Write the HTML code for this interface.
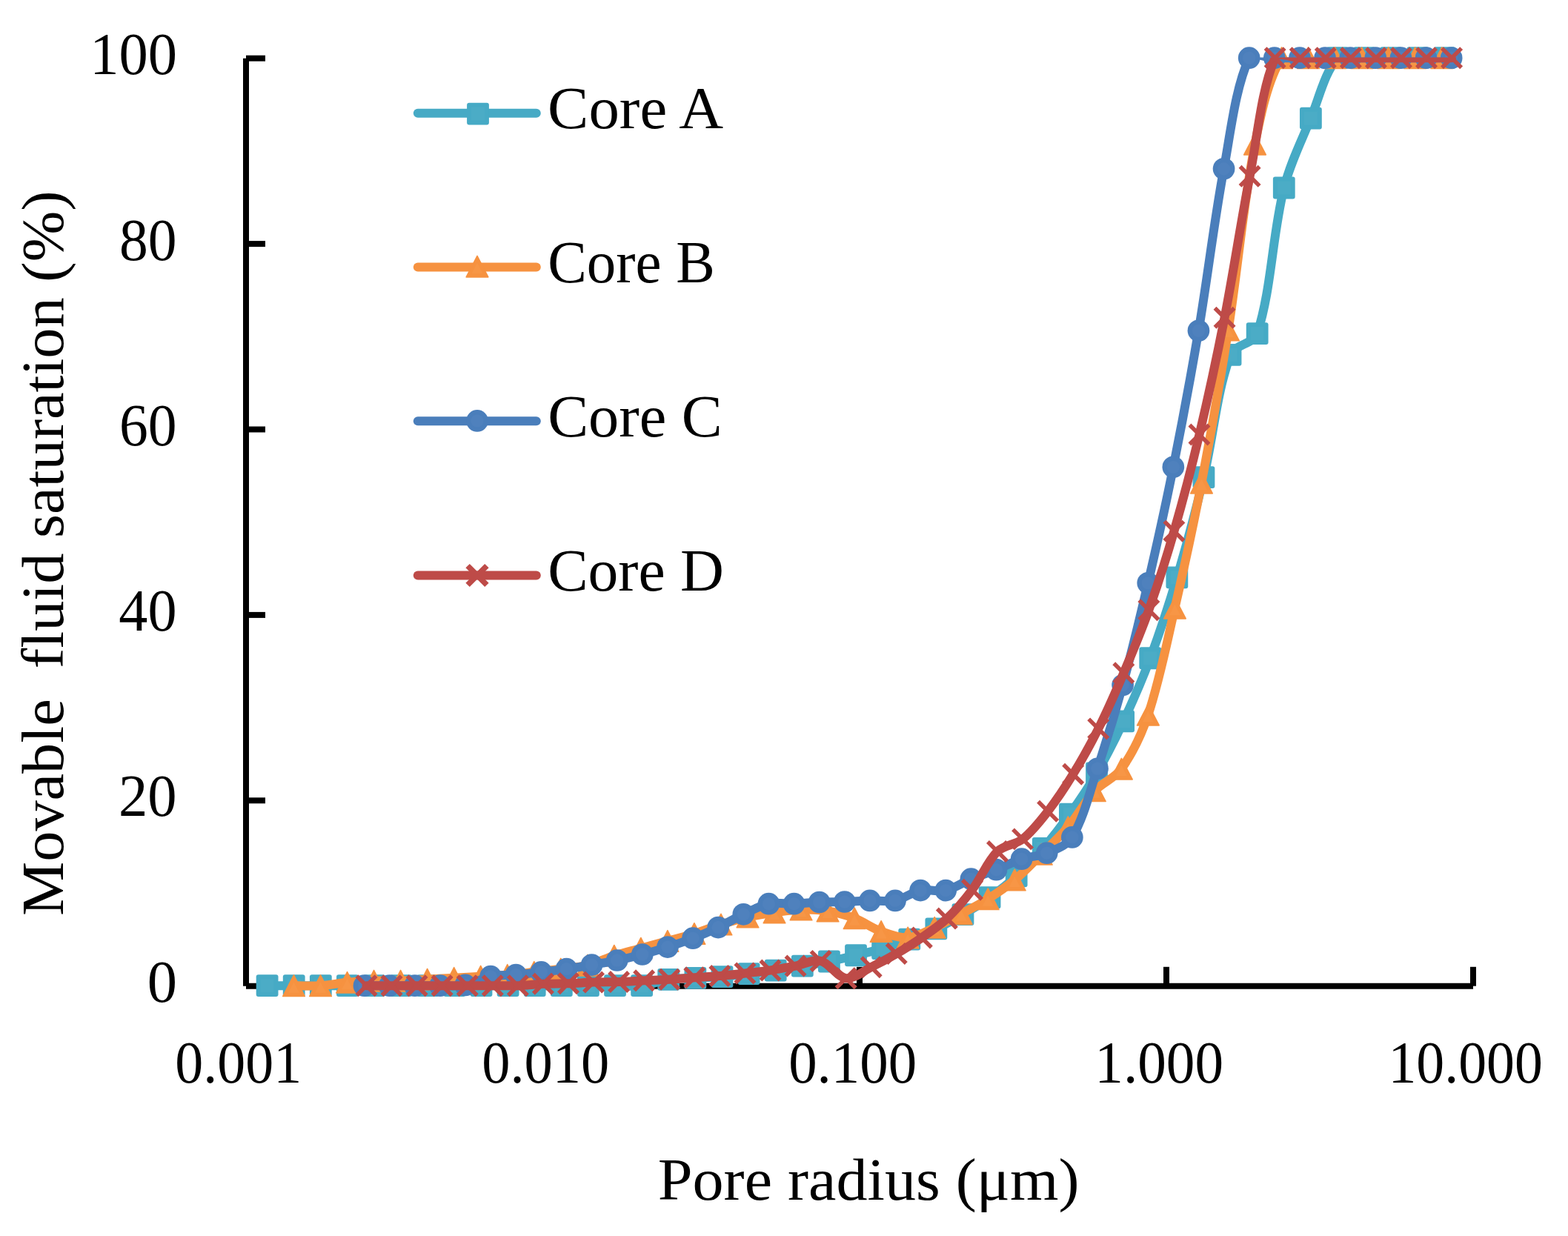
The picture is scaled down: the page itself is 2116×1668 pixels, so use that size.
<!DOCTYPE html>
<html><head><meta charset="utf-8"><title>Movable fluid saturation vs pore radius</title>
<style>html,body{margin:0;padding:0;background:#fff;}svg{display:block;}</style></head>
<body>
<svg width="2116" height="1668" viewBox="0 0 2116 1668">
<rect width="2116" height="1668" fill="#fff"/>
<g font-family="&quot;Liberation Serif&quot;, serif" font-size="80.0" fill="#000">
<text x="121.21" y="99.70" textLength="117.78" lengthAdjust="spacingAndGlyphs">100</text>
<text x="160.93" y="351.30" textLength="77.54" lengthAdjust="spacingAndGlyphs">80</text>
<text x="160.93" y="600.50" textLength="77.54" lengthAdjust="spacingAndGlyphs">60</text>
<text x="160.27" y="850.90" textLength="78.23" lengthAdjust="spacingAndGlyphs">40</text>
<text x="159.92" y="1101.30" textLength="78.59" lengthAdjust="spacingAndGlyphs">20</text>
<text x="198.82" y="1351.70" textLength="40.26" lengthAdjust="spacingAndGlyphs">0</text>
<text x="236.19" y="1461.20" textLength="170.94" lengthAdjust="spacingAndGlyphs">0.001</text>
<text x="650.17" y="1461.20" textLength="172.10" lengthAdjust="spacingAndGlyphs">0.010</text>
<text x="1064.15" y="1461.20" textLength="172.93" lengthAdjust="spacingAndGlyphs">0.100</text>
<text x="1477.33" y="1461.20" textLength="173.77" lengthAdjust="spacingAndGlyphs">1.000</text>
<text x="1873.45" y="1461.20" textLength="208.32" lengthAdjust="spacingAndGlyphs">10.000</text>
<text x="887.72" y="1619.00" textLength="568.72" lengthAdjust="spacingAndGlyphs">Pore radius (μm)</text>
<g transform="translate(84.5,1234) rotate(-90)"><text x="-2.03" y="0" textLength="978.75" lengthAdjust="spacingAndGlyphs" style="white-space:pre">Movable  fluid saturation (%)</text></g>
<text x="739.13" y="173.00" textLength="237.02" lengthAdjust="spacingAndGlyphs">Core A</text>
<text x="739.28" y="380.50" textLength="225.45" lengthAdjust="spacingAndGlyphs">Core B</text>
<text x="739.15" y="589.00" textLength="235.67" lengthAdjust="spacingAndGlyphs">Core C</text>
<text x="739.18" y="797.00" textLength="237.74" lengthAdjust="spacingAndGlyphs">Core D</text>
</g>
<g stroke="#000" stroke-width="8" stroke-linecap="butt" fill="none">
<path d="M332 78.7V1330.7"/>
<path d="M332 1330.7H1988"/>
<path d="M332 78.7H358"/>
<path d="M332 329.1H358"/>
<path d="M332 579.5H358"/>
<path d="M332 829.9H358"/>
<path d="M332 1080.3H358"/>
<path d="M746 1330.7V1304.8"/>
<path d="M1160 1330.7V1304.8"/>
<path d="M1574 1330.7V1304.8"/>
<path d="M1988 1330.7V1304.8"/>
</g>
<defs><clipPath id="pa"><rect x="0" y="77.4" width="2116" height="1600"/></clipPath></defs>
<path clip-path="url(#pa)" d="M360.60 1330.20 C366.62 1330.20 384.67 1330.20 396.71 1330.20 C408.75 1330.20 420.78 1330.20 432.82 1330.20 C444.86 1330.20 456.89 1330.20 468.93 1330.20 C480.97 1330.20 493.00 1330.20 505.04 1330.20 C517.08 1330.20 529.11 1330.20 541.15 1330.20 C553.19 1330.20 565.22 1330.20 577.26 1330.20 C589.30 1330.20 601.33 1330.20 613.37 1330.20 C625.41 1330.20 637.44 1330.20 649.48 1330.20 C661.52 1330.20 673.55 1330.20 685.59 1330.20 C697.63 1330.20 709.66 1330.20 721.70 1330.20 C733.74 1330.20 745.77 1330.20 757.81 1330.20 C769.85 1330.20 781.88 1330.20 793.92 1330.20 C805.96 1330.20 817.99 1330.20 830.03 1330.20 C842.07 1330.20 854.26 1331.56 866.14 1330.20 C878.33 1328.81 890.07 1323.67 902.25 1321.94 C914.14 1320.25 926.32 1320.58 938.36 1319.93 C950.40 1319.29 962.46 1319.03 974.47 1318.06 C986.54 1317.07 998.55 1315.47 1010.58 1314.05 C1022.63 1312.63 1034.69 1311.29 1046.69 1309.54 C1058.76 1307.78 1070.76 1305.54 1082.80 1303.53 C1094.84 1301.53 1106.94 1299.89 1118.91 1297.52 C1131.02 1295.13 1143.02 1292.15 1155.02 1289.26 C1167.09 1286.35 1179.25 1283.68 1191.13 1280.12 C1203.32 1276.46 1215.29 1272.01 1227.24 1267.60 C1239.36 1263.12 1251.65 1258.89 1263.35 1253.45 C1275.72 1247.71 1287.67 1240.94 1299.46 1234.05 C1311.74 1226.87 1324.01 1219.52 1335.57 1211.26 C1348.08 1202.33 1360.37 1192.86 1371.68 1182.46 C1384.44 1170.74 1396.47 1158.05 1407.79 1144.90 C1420.55 1130.09 1432.55 1114.51 1443.90 1098.58 C1456.63 1080.71 1469.05 1062.48 1480.01 1043.49 C1493.13 1020.75 1505.04 997.20 1516.12 973.38 C1529.11 945.45 1541.49 917.11 1552.23 888.24 C1565.56 852.42 1577.49 815.98 1588.34 779.32 C1601.57 734.60 1613.55 689.45 1624.45 644.10 C1637.62 589.29 1641.65 529.65 1660.56 478.84 C1665.72 464.97 1692.15 464.15 1696.67 450.04 C1716.22 389.03 1716.77 317.88 1732.78 253.48 C1740.84 221.06 1756.12 190.58 1768.89 159.58 C1780.19 132.15 1787.87 97.50 1805.00 78.20 C1811.95 70.37 1829.07 78.20 1841.11 78.20 C1853.15 78.20 1865.18 78.20 1877.22 78.20 C1889.26 78.20 1901.29 78.20 1913.33 78.20 C1925.37 78.20 1943.42 78.20 1949.44 78.20" fill="none" stroke="#46AAC5" stroke-width="12" stroke-linecap="round" stroke-linejoin="round"/>
<g><rect x="345.70" y="1315.30" width="29.8" height="29.8" rx="3" fill="#46AAC5"/><rect x="351.60" y="1321.20" width="18" height="18" fill="#4BACC6"/><rect x="381.81" y="1315.30" width="29.8" height="29.8" rx="3" fill="#46AAC5"/><rect x="387.71" y="1321.20" width="18" height="18" fill="#4BACC6"/><rect x="417.92" y="1315.30" width="29.8" height="29.8" rx="3" fill="#46AAC5"/><rect x="423.82" y="1321.20" width="18" height="18" fill="#4BACC6"/><rect x="454.03" y="1315.30" width="29.8" height="29.8" rx="3" fill="#46AAC5"/><rect x="459.93" y="1321.20" width="18" height="18" fill="#4BACC6"/><rect x="490.14" y="1315.30" width="29.8" height="29.8" rx="3" fill="#46AAC5"/><rect x="496.04" y="1321.20" width="18" height="18" fill="#4BACC6"/><rect x="526.25" y="1315.30" width="29.8" height="29.8" rx="3" fill="#46AAC5"/><rect x="532.15" y="1321.20" width="18" height="18" fill="#4BACC6"/><rect x="562.36" y="1315.30" width="29.8" height="29.8" rx="3" fill="#46AAC5"/><rect x="568.26" y="1321.20" width="18" height="18" fill="#4BACC6"/><rect x="598.47" y="1315.30" width="29.8" height="29.8" rx="3" fill="#46AAC5"/><rect x="604.37" y="1321.20" width="18" height="18" fill="#4BACC6"/><rect x="634.58" y="1315.30" width="29.8" height="29.8" rx="3" fill="#46AAC5"/><rect x="640.48" y="1321.20" width="18" height="18" fill="#4BACC6"/><rect x="670.69" y="1315.30" width="29.8" height="29.8" rx="3" fill="#46AAC5"/><rect x="676.59" y="1321.20" width="18" height="18" fill="#4BACC6"/><rect x="706.80" y="1315.30" width="29.8" height="29.8" rx="3" fill="#46AAC5"/><rect x="712.70" y="1321.20" width="18" height="18" fill="#4BACC6"/><rect x="742.91" y="1315.30" width="29.8" height="29.8" rx="3" fill="#46AAC5"/><rect x="748.81" y="1321.20" width="18" height="18" fill="#4BACC6"/><rect x="779.02" y="1315.30" width="29.8" height="29.8" rx="3" fill="#46AAC5"/><rect x="784.92" y="1321.20" width="18" height="18" fill="#4BACC6"/><rect x="815.13" y="1315.30" width="29.8" height="29.8" rx="3" fill="#46AAC5"/><rect x="821.03" y="1321.20" width="18" height="18" fill="#4BACC6"/><rect x="851.24" y="1315.30" width="29.8" height="29.8" rx="3" fill="#46AAC5"/><rect x="857.14" y="1321.20" width="18" height="18" fill="#4BACC6"/><rect x="887.35" y="1307.04" width="29.8" height="29.8" rx="3" fill="#46AAC5"/><rect x="893.25" y="1312.94" width="18" height="18" fill="#4BACC6"/><rect x="923.46" y="1305.03" width="29.8" height="29.8" rx="3" fill="#46AAC5"/><rect x="929.36" y="1310.93" width="18" height="18" fill="#4BACC6"/><rect x="959.57" y="1303.16" width="29.8" height="29.8" rx="3" fill="#46AAC5"/><rect x="965.47" y="1309.06" width="18" height="18" fill="#4BACC6"/><rect x="995.68" y="1299.15" width="29.8" height="29.8" rx="3" fill="#46AAC5"/><rect x="1001.58" y="1305.05" width="18" height="18" fill="#4BACC6"/><rect x="1031.79" y="1294.64" width="29.8" height="29.8" rx="3" fill="#46AAC5"/><rect x="1037.69" y="1300.54" width="18" height="18" fill="#4BACC6"/><rect x="1067.90" y="1288.63" width="29.8" height="29.8" rx="3" fill="#46AAC5"/><rect x="1073.80" y="1294.53" width="18" height="18" fill="#4BACC6"/><rect x="1104.01" y="1282.62" width="29.8" height="29.8" rx="3" fill="#46AAC5"/><rect x="1109.91" y="1288.52" width="18" height="18" fill="#4BACC6"/><rect x="1140.12" y="1274.36" width="29.8" height="29.8" rx="3" fill="#46AAC5"/><rect x="1146.02" y="1280.26" width="18" height="18" fill="#4BACC6"/><rect x="1176.23" y="1265.22" width="29.8" height="29.8" rx="3" fill="#46AAC5"/><rect x="1182.13" y="1271.12" width="18" height="18" fill="#4BACC6"/><rect x="1212.34" y="1252.70" width="29.8" height="29.8" rx="3" fill="#46AAC5"/><rect x="1218.24" y="1258.60" width="18" height="18" fill="#4BACC6"/><rect x="1248.45" y="1238.55" width="29.8" height="29.8" rx="3" fill="#46AAC5"/><rect x="1254.35" y="1244.45" width="18" height="18" fill="#4BACC6"/><rect x="1284.56" y="1219.15" width="29.8" height="29.8" rx="3" fill="#46AAC5"/><rect x="1290.46" y="1225.05" width="18" height="18" fill="#4BACC6"/><rect x="1320.67" y="1196.36" width="29.8" height="29.8" rx="3" fill="#46AAC5"/><rect x="1326.57" y="1202.26" width="18" height="18" fill="#4BACC6"/><rect x="1356.78" y="1167.56" width="29.8" height="29.8" rx="3" fill="#46AAC5"/><rect x="1362.68" y="1173.46" width="18" height="18" fill="#4BACC6"/><rect x="1392.89" y="1130.00" width="29.8" height="29.8" rx="3" fill="#46AAC5"/><rect x="1398.79" y="1135.90" width="18" height="18" fill="#4BACC6"/><rect x="1429.00" y="1083.68" width="29.8" height="29.8" rx="3" fill="#46AAC5"/><rect x="1434.90" y="1089.58" width="18" height="18" fill="#4BACC6"/><rect x="1465.11" y="1028.59" width="29.8" height="29.8" rx="3" fill="#46AAC5"/><rect x="1471.01" y="1034.49" width="18" height="18" fill="#4BACC6"/><rect x="1501.22" y="958.48" width="29.8" height="29.8" rx="3" fill="#46AAC5"/><rect x="1507.12" y="964.38" width="18" height="18" fill="#4BACC6"/><rect x="1537.33" y="873.34" width="29.8" height="29.8" rx="3" fill="#46AAC5"/><rect x="1543.23" y="879.24" width="18" height="18" fill="#4BACC6"/><rect x="1573.44" y="764.42" width="29.8" height="29.8" rx="3" fill="#46AAC5"/><rect x="1579.34" y="770.32" width="18" height="18" fill="#4BACC6"/><rect x="1609.55" y="629.20" width="29.8" height="29.8" rx="3" fill="#46AAC5"/><rect x="1615.45" y="635.10" width="18" height="18" fill="#4BACC6"/><rect x="1645.66" y="463.94" width="29.8" height="29.8" rx="3" fill="#46AAC5"/><rect x="1651.56" y="469.84" width="18" height="18" fill="#4BACC6"/><rect x="1681.77" y="435.14" width="29.8" height="29.8" rx="3" fill="#46AAC5"/><rect x="1687.67" y="441.04" width="18" height="18" fill="#4BACC6"/><rect x="1717.88" y="238.58" width="29.8" height="29.8" rx="3" fill="#46AAC5"/><rect x="1723.78" y="244.48" width="18" height="18" fill="#4BACC6"/><rect x="1753.99" y="144.68" width="29.8" height="29.8" rx="3" fill="#46AAC5"/><rect x="1759.89" y="150.58" width="18" height="18" fill="#4BACC6"/><rect x="1790.10" y="63.30" width="29.8" height="29.8" rx="3" fill="#46AAC5"/><rect x="1796.00" y="69.20" width="18" height="18" fill="#4BACC6"/><rect x="1826.21" y="63.30" width="29.8" height="29.8" rx="3" fill="#46AAC5"/><rect x="1832.11" y="69.20" width="18" height="18" fill="#4BACC6"/><rect x="1862.32" y="63.30" width="29.8" height="29.8" rx="3" fill="#46AAC5"/><rect x="1868.22" y="69.20" width="18" height="18" fill="#4BACC6"/><rect x="1898.43" y="63.30" width="29.8" height="29.8" rx="3" fill="#46AAC5"/><rect x="1904.33" y="69.20" width="18" height="18" fill="#4BACC6"/><rect x="1934.54" y="63.30" width="29.8" height="29.8" rx="3" fill="#46AAC5"/><rect x="1940.44" y="69.20" width="18" height="18" fill="#4BACC6"/></g>
<path clip-path="url(#pa)" d="M396.50 1330.20 C402.50 1330.20 420.56 1330.93 432.53 1330.20 C444.58 1329.47 456.51 1326.91 468.55 1325.82 C480.53 1324.74 492.56 1324.04 504.58 1323.69 C516.58 1323.34 528.61 1324.02 540.61 1323.69 C552.63 1323.36 564.63 1322.33 576.64 1321.69 C588.65 1321.04 600.66 1320.48 612.67 1319.81 C624.68 1319.14 636.68 1318.35 648.69 1317.68 C660.70 1317.01 672.74 1316.78 684.72 1315.80 C696.76 1314.82 708.74 1313.15 720.75 1311.80 C732.76 1310.44 744.79 1309.18 756.78 1307.66 C768.81 1306.14 781.10 1305.56 792.81 1302.66 C805.12 1299.60 816.69 1293.62 828.83 1289.76 C840.70 1285.99 852.85 1283.06 864.86 1279.74 C876.87 1276.43 888.88 1273.15 900.89 1269.85 C912.90 1266.56 925.03 1263.64 936.92 1259.96 C949.05 1256.21 960.82 1251.34 972.95 1247.57 C984.84 1243.87 996.82 1240.25 1008.97 1237.55 C1020.84 1234.91 1032.95 1233.22 1045.00 1231.54 C1056.97 1229.88 1068.99 1227.87 1081.03 1227.54 C1093.01 1227.20 1105.25 1227.63 1117.06 1229.54 C1129.27 1231.51 1141.52 1234.78 1153.09 1239.18 C1165.54 1243.92 1176.61 1252.40 1189.11 1256.96 C1200.63 1261.16 1213.37 1266.31 1225.14 1265.47 C1237.39 1264.60 1249.47 1257.07 1261.17 1251.82 C1273.49 1246.30 1285.28 1239.55 1297.20 1233.17 C1309.29 1226.70 1321.66 1220.60 1333.23 1213.26 C1345.68 1205.37 1357.97 1196.94 1369.25 1187.47 C1381.99 1176.78 1393.44 1164.52 1405.28 1152.79 C1417.46 1140.73 1430.29 1129.18 1441.31 1116.11 C1454.31 1100.68 1463.76 1082.07 1477.34 1067.28 C1487.78 1055.90 1504.61 1050.08 1513.37 1037.61 C1528.63 1015.86 1540.89 990.23 1549.39 964.62 C1564.91 917.91 1574.32 868.84 1585.42 820.64 C1598.34 764.51 1610.58 708.18 1621.45 651.62 C1634.60 583.14 1646.62 514.41 1657.48 445.54 C1670.64 362.09 1677.29 277.32 1693.51 194.64 C1701.31 154.88 1711.00 108.16 1729.53 78.20 C1735.01 69.34 1753.55 78.20 1765.56 78.20 C1777.57 78.20 1789.58 78.20 1801.59 78.20 C1813.60 78.20 1825.61 78.20 1837.62 78.20 C1849.63 78.20 1861.64 78.20 1873.65 78.20 C1885.66 78.20 1897.66 78.20 1909.67 78.20 C1921.68 78.20 1939.70 78.20 1945.70 78.20" fill="none" stroke="#F69240" stroke-width="12" stroke-linecap="round" stroke-linejoin="round"/>
<g><path d="M396.50 1315.90L411.35 1344.50H381.65Z" fill="#F69240" stroke="#F69240" stroke-width="1.5" stroke-linejoin="round"/><path d="M396.50 1325.43L403.92 1339.73H389.07Z" fill="#F79646"/><path d="M432.53 1315.90L447.38 1344.50H417.68Z" fill="#F69240" stroke="#F69240" stroke-width="1.5" stroke-linejoin="round"/><path d="M432.53 1325.43L439.95 1339.73H425.10Z" fill="#F79646"/><path d="M468.55 1311.52L483.40 1340.12H453.70Z" fill="#F69240" stroke="#F69240" stroke-width="1.5" stroke-linejoin="round"/><path d="M468.55 1321.05L475.98 1335.35H461.13Z" fill="#F79646"/><path d="M504.58 1309.39L519.43 1337.99H489.73Z" fill="#F69240" stroke="#F69240" stroke-width="1.5" stroke-linejoin="round"/><path d="M504.58 1318.92L512.01 1333.22H497.16Z" fill="#F79646"/><path d="M540.61 1309.39L555.46 1337.99H525.76Z" fill="#F69240" stroke="#F69240" stroke-width="1.5" stroke-linejoin="round"/><path d="M540.61 1318.92L548.03 1333.22H533.19Z" fill="#F79646"/><path d="M576.64 1307.39L591.49 1335.99H561.79Z" fill="#F69240" stroke="#F69240" stroke-width="1.5" stroke-linejoin="round"/><path d="M576.64 1316.92L584.06 1331.22H569.21Z" fill="#F79646"/><path d="M612.67 1305.51L627.52 1334.11H597.82Z" fill="#F69240" stroke="#F69240" stroke-width="1.5" stroke-linejoin="round"/><path d="M612.67 1315.04L620.09 1329.34H605.24Z" fill="#F79646"/><path d="M648.69 1303.38L663.54 1331.98H633.84Z" fill="#F69240" stroke="#F69240" stroke-width="1.5" stroke-linejoin="round"/><path d="M648.69 1312.91L656.12 1327.21H641.27Z" fill="#F79646"/><path d="M684.72 1301.50L699.57 1330.10H669.87Z" fill="#F69240" stroke="#F69240" stroke-width="1.5" stroke-linejoin="round"/><path d="M684.72 1311.04L692.15 1325.34H677.30Z" fill="#F79646"/><path d="M720.75 1297.50L735.60 1326.10H705.90Z" fill="#F69240" stroke="#F69240" stroke-width="1.5" stroke-linejoin="round"/><path d="M720.75 1307.03L728.17 1321.33H713.33Z" fill="#F79646"/><path d="M756.78 1293.36L771.63 1321.96H741.93Z" fill="#F69240" stroke="#F69240" stroke-width="1.5" stroke-linejoin="round"/><path d="M756.78 1302.90L764.20 1317.20H749.35Z" fill="#F79646"/><path d="M792.81 1288.36L807.66 1316.96H777.96Z" fill="#F69240" stroke="#F69240" stroke-width="1.5" stroke-linejoin="round"/><path d="M792.81 1297.89L800.23 1312.19H785.38Z" fill="#F79646"/><path d="M828.83 1275.46L843.68 1304.06H813.98Z" fill="#F69240" stroke="#F69240" stroke-width="1.5" stroke-linejoin="round"/><path d="M828.83 1284.99L836.26 1299.29H821.41Z" fill="#F79646"/><path d="M864.86 1265.44L879.71 1294.04H850.01Z" fill="#F69240" stroke="#F69240" stroke-width="1.5" stroke-linejoin="round"/><path d="M864.86 1274.98L872.29 1289.28H857.44Z" fill="#F79646"/><path d="M900.89 1255.55L915.74 1284.15H886.04Z" fill="#F69240" stroke="#F69240" stroke-width="1.5" stroke-linejoin="round"/><path d="M900.89 1265.09L908.31 1279.39H893.47Z" fill="#F79646"/><path d="M936.92 1245.66L951.77 1274.26H922.07Z" fill="#F69240" stroke="#F69240" stroke-width="1.5" stroke-linejoin="round"/><path d="M936.92 1255.20L944.34 1269.50H929.49Z" fill="#F79646"/><path d="M972.95 1233.27L987.80 1261.87H958.10Z" fill="#F69240" stroke="#F69240" stroke-width="1.5" stroke-linejoin="round"/><path d="M972.95 1242.80L980.37 1257.10H965.52Z" fill="#F79646"/><path d="M1008.97 1223.25L1023.82 1251.85H994.12Z" fill="#F69240" stroke="#F69240" stroke-width="1.5" stroke-linejoin="round"/><path d="M1008.97 1232.79L1016.40 1247.09H1001.55Z" fill="#F79646"/><path d="M1045.00 1217.24L1059.85 1245.84H1030.15Z" fill="#F69240" stroke="#F69240" stroke-width="1.5" stroke-linejoin="round"/><path d="M1045.00 1226.78L1052.43 1241.08H1037.58Z" fill="#F79646"/><path d="M1081.03 1213.24L1095.88 1241.84H1066.18Z" fill="#F69240" stroke="#F69240" stroke-width="1.5" stroke-linejoin="round"/><path d="M1081.03 1222.77L1088.45 1237.07H1073.61Z" fill="#F79646"/><path d="M1117.06 1215.24L1131.91 1243.84H1102.21Z" fill="#F69240" stroke="#F69240" stroke-width="1.5" stroke-linejoin="round"/><path d="M1117.06 1224.77L1124.48 1239.07H1109.63Z" fill="#F79646"/><path d="M1153.09 1224.88L1167.94 1253.48H1138.24Z" fill="#F69240" stroke="#F69240" stroke-width="1.5" stroke-linejoin="round"/><path d="M1153.09 1234.41L1160.51 1248.71H1145.66Z" fill="#F79646"/><path d="M1189.11 1242.66L1203.96 1271.26H1174.26Z" fill="#F69240" stroke="#F69240" stroke-width="1.5" stroke-linejoin="round"/><path d="M1189.11 1252.19L1196.54 1266.49H1181.69Z" fill="#F79646"/><path d="M1225.14 1251.17L1239.99 1279.77H1210.29Z" fill="#F69240" stroke="#F69240" stroke-width="1.5" stroke-linejoin="round"/><path d="M1225.14 1260.70L1232.57 1275.00H1217.72Z" fill="#F79646"/><path d="M1261.17 1237.52L1276.02 1266.12H1246.32Z" fill="#F69240" stroke="#F69240" stroke-width="1.5" stroke-linejoin="round"/><path d="M1261.17 1247.06L1268.60 1261.36H1253.75Z" fill="#F79646"/><path d="M1297.20 1218.87L1312.05 1247.47H1282.35Z" fill="#F69240" stroke="#F69240" stroke-width="1.5" stroke-linejoin="round"/><path d="M1297.20 1228.40L1304.62 1242.70H1289.77Z" fill="#F79646"/><path d="M1333.23 1198.96L1348.08 1227.56H1318.38Z" fill="#F69240" stroke="#F69240" stroke-width="1.5" stroke-linejoin="round"/><path d="M1333.23 1208.50L1340.65 1222.80H1325.80Z" fill="#F79646"/><path d="M1369.25 1173.17L1384.10 1201.77H1354.40Z" fill="#F69240" stroke="#F69240" stroke-width="1.5" stroke-linejoin="round"/><path d="M1369.25 1182.71L1376.68 1197.01H1361.83Z" fill="#F79646"/><path d="M1405.28 1138.49L1420.13 1167.09H1390.43Z" fill="#F69240" stroke="#F69240" stroke-width="1.5" stroke-linejoin="round"/><path d="M1405.28 1148.02L1412.71 1162.32H1397.86Z" fill="#F79646"/><path d="M1441.31 1101.81L1456.16 1130.41H1426.46Z" fill="#F69240" stroke="#F69240" stroke-width="1.5" stroke-linejoin="round"/><path d="M1441.31 1111.34L1448.73 1125.64H1433.88Z" fill="#F79646"/><path d="M1477.34 1052.98L1492.19 1081.58H1462.49Z" fill="#F69240" stroke="#F69240" stroke-width="1.5" stroke-linejoin="round"/><path d="M1477.34 1062.51L1484.76 1076.81H1469.91Z" fill="#F79646"/><path d="M1513.37 1023.31L1528.22 1051.91H1498.52Z" fill="#F69240" stroke="#F69240" stroke-width="1.5" stroke-linejoin="round"/><path d="M1513.37 1032.84L1520.79 1047.14H1505.94Z" fill="#F79646"/><path d="M1549.39 950.32L1564.24 978.92H1534.54Z" fill="#F69240" stroke="#F69240" stroke-width="1.5" stroke-linejoin="round"/><path d="M1549.39 959.85L1556.82 974.15H1541.97Z" fill="#F79646"/><path d="M1585.42 806.34L1600.27 834.94H1570.57Z" fill="#F69240" stroke="#F69240" stroke-width="1.5" stroke-linejoin="round"/><path d="M1585.42 815.87L1592.85 830.17H1578.00Z" fill="#F79646"/><path d="M1621.45 637.32L1636.30 665.92H1606.60Z" fill="#F69240" stroke="#F69240" stroke-width="1.5" stroke-linejoin="round"/><path d="M1621.45 646.85L1628.88 661.15H1614.03Z" fill="#F79646"/><path d="M1657.48 431.24L1672.33 459.84H1642.63Z" fill="#F69240" stroke="#F69240" stroke-width="1.5" stroke-linejoin="round"/><path d="M1657.48 440.77L1664.90 455.07H1650.05Z" fill="#F79646"/><path d="M1693.51 180.34L1708.36 208.94H1678.66Z" fill="#F69240" stroke="#F69240" stroke-width="1.5" stroke-linejoin="round"/><path d="M1693.51 189.87L1700.93 204.17H1686.08Z" fill="#F79646"/><path d="M1729.53 63.90L1744.38 92.50H1714.68Z" fill="#F69240" stroke="#F69240" stroke-width="1.5" stroke-linejoin="round"/><path d="M1729.53 73.43L1736.96 87.73H1722.11Z" fill="#F79646"/><path d="M1765.56 63.90L1780.41 92.50H1750.71Z" fill="#F69240" stroke="#F69240" stroke-width="1.5" stroke-linejoin="round"/><path d="M1765.56 73.43L1772.99 87.73H1758.14Z" fill="#F79646"/><path d="M1801.59 63.90L1816.44 92.50H1786.74Z" fill="#F69240" stroke="#F69240" stroke-width="1.5" stroke-linejoin="round"/><path d="M1801.59 73.43L1809.01 87.73H1794.16Z" fill="#F79646"/><path d="M1837.62 63.90L1852.47 92.50H1822.77Z" fill="#F69240" stroke="#F69240" stroke-width="1.5" stroke-linejoin="round"/><path d="M1837.62 73.43L1845.04 87.73H1830.19Z" fill="#F79646"/><path d="M1873.65 63.90L1888.50 92.50H1858.80Z" fill="#F69240" stroke="#F69240" stroke-width="1.5" stroke-linejoin="round"/><path d="M1873.65 73.43L1881.07 87.73H1866.22Z" fill="#F79646"/><path d="M1909.67 63.90L1924.52 92.50H1894.82Z" fill="#F69240" stroke="#F69240" stroke-width="1.5" stroke-linejoin="round"/><path d="M1909.67 73.43L1917.10 87.73H1902.25Z" fill="#F79646"/><path d="M1945.70 63.90L1960.55 92.50H1930.85Z" fill="#F69240" stroke="#F69240" stroke-width="1.5" stroke-linejoin="round"/><path d="M1945.70 73.43L1953.13 87.73H1938.28Z" fill="#F79646"/></g>
<path clip-path="url(#pa)" d="M491.50 1330.20 C497.19 1330.20 514.25 1330.20 525.62 1330.20 C536.99 1330.20 548.37 1330.20 559.74 1330.20 C571.11 1330.20 582.49 1330.33 593.86 1330.20 C605.23 1330.07 616.92 1331.48 627.98 1329.45 C639.67 1327.30 650.42 1320.06 662.10 1317.68 C673.16 1315.43 684.87 1316.51 696.22 1315.55 C707.61 1314.59 718.98 1313.23 730.34 1311.92 C741.73 1310.60 753.12 1309.31 764.46 1307.66 C775.87 1306.01 787.22 1303.97 798.58 1302.03 C809.96 1300.09 821.39 1298.34 832.70 1296.02 C844.14 1293.67 855.52 1290.97 866.82 1288.01 C878.27 1285.00 889.66 1281.72 900.94 1278.12 C912.41 1274.46 923.84 1270.59 935.06 1266.22 C946.59 1261.74 958.01 1256.88 969.18 1251.57 C980.76 1246.07 991.69 1239.23 1003.30 1233.80 C1014.44 1228.58 1025.60 1222.10 1037.42 1219.65 C1048.34 1217.38 1060.18 1220.00 1071.54 1219.65 C1082.92 1219.29 1094.28 1217.96 1105.66 1217.52 C1117.02 1217.08 1128.41 1217.37 1139.78 1217.02 C1151.16 1216.66 1162.52 1215.66 1173.90 1215.39 C1185.27 1215.12 1197.08 1217.60 1208.02 1215.39 C1219.82 1213.01 1230.34 1204.00 1242.14 1201.62 C1253.08 1199.41 1265.41 1204.07 1276.26 1201.62 C1288.16 1198.93 1298.84 1190.94 1310.38 1186.22 C1321.59 1181.64 1333.24 1178.16 1344.50 1173.70 C1355.99 1169.15 1366.93 1163.04 1378.62 1159.18 C1389.67 1155.53 1402.15 1155.71 1412.74 1151.16 C1424.89 1145.95 1440.28 1140.87 1446.86 1129.88 C1463.02 1102.89 1470.61 1068.45 1480.98 1037.23 C1493.35 1000.01 1504.78 962.40 1515.10 924.55 C1527.53 878.94 1538.54 832.90 1549.22 786.83 C1561.28 734.83 1572.85 682.68 1583.34 630.33 C1595.60 569.16 1607.03 507.80 1617.46 446.29 C1629.78 373.62 1638.15 300.24 1651.58 227.81 C1660.90 177.55 1667.09 119.00 1685.70 78.20 C1689.84 69.13 1708.45 78.20 1719.82 78.20 C1731.19 78.20 1742.57 78.20 1753.94 78.20 C1765.31 78.20 1776.69 78.20 1788.06 78.20 C1799.43 78.20 1810.81 78.20 1822.18 78.20 C1833.55 78.20 1844.93 78.20 1856.30 78.20 C1867.67 78.20 1879.05 78.20 1890.42 78.20 C1901.79 78.20 1913.17 78.20 1924.54 78.20 C1935.91 78.20 1952.97 78.20 1958.66 78.20" fill="none" stroke="#4A7EBB" stroke-width="12" stroke-linecap="round" stroke-linejoin="round"/>
<g><circle cx="491.50" cy="1330.20" r="14.85" fill="#4A7EBB"/><circle cx="491.50" cy="1330.20" r="8.7" fill="#4F81BD"/><circle cx="525.62" cy="1330.20" r="14.85" fill="#4A7EBB"/><circle cx="525.62" cy="1330.20" r="8.7" fill="#4F81BD"/><circle cx="559.74" cy="1330.20" r="14.85" fill="#4A7EBB"/><circle cx="559.74" cy="1330.20" r="8.7" fill="#4F81BD"/><circle cx="593.86" cy="1330.20" r="14.85" fill="#4A7EBB"/><circle cx="593.86" cy="1330.20" r="8.7" fill="#4F81BD"/><circle cx="627.98" cy="1329.45" r="14.85" fill="#4A7EBB"/><circle cx="627.98" cy="1329.45" r="8.7" fill="#4F81BD"/><circle cx="662.10" cy="1317.68" r="14.85" fill="#4A7EBB"/><circle cx="662.10" cy="1317.68" r="8.7" fill="#4F81BD"/><circle cx="696.22" cy="1315.55" r="14.85" fill="#4A7EBB"/><circle cx="696.22" cy="1315.55" r="8.7" fill="#4F81BD"/><circle cx="730.34" cy="1311.92" r="14.85" fill="#4A7EBB"/><circle cx="730.34" cy="1311.92" r="8.7" fill="#4F81BD"/><circle cx="764.46" cy="1307.66" r="14.85" fill="#4A7EBB"/><circle cx="764.46" cy="1307.66" r="8.7" fill="#4F81BD"/><circle cx="798.58" cy="1302.03" r="14.85" fill="#4A7EBB"/><circle cx="798.58" cy="1302.03" r="8.7" fill="#4F81BD"/><circle cx="832.70" cy="1296.02" r="14.85" fill="#4A7EBB"/><circle cx="832.70" cy="1296.02" r="8.7" fill="#4F81BD"/><circle cx="866.82" cy="1288.01" r="14.85" fill="#4A7EBB"/><circle cx="866.82" cy="1288.01" r="8.7" fill="#4F81BD"/><circle cx="900.94" cy="1278.12" r="14.85" fill="#4A7EBB"/><circle cx="900.94" cy="1278.12" r="8.7" fill="#4F81BD"/><circle cx="935.06" cy="1266.22" r="14.85" fill="#4A7EBB"/><circle cx="935.06" cy="1266.22" r="8.7" fill="#4F81BD"/><circle cx="969.18" cy="1251.57" r="14.85" fill="#4A7EBB"/><circle cx="969.18" cy="1251.57" r="8.7" fill="#4F81BD"/><circle cx="1003.30" cy="1233.80" r="14.85" fill="#4A7EBB"/><circle cx="1003.30" cy="1233.80" r="8.7" fill="#4F81BD"/><circle cx="1037.42" cy="1219.65" r="14.85" fill="#4A7EBB"/><circle cx="1037.42" cy="1219.65" r="8.7" fill="#4F81BD"/><circle cx="1071.54" cy="1219.65" r="14.85" fill="#4A7EBB"/><circle cx="1071.54" cy="1219.65" r="8.7" fill="#4F81BD"/><circle cx="1105.66" cy="1217.52" r="14.85" fill="#4A7EBB"/><circle cx="1105.66" cy="1217.52" r="8.7" fill="#4F81BD"/><circle cx="1139.78" cy="1217.02" r="14.85" fill="#4A7EBB"/><circle cx="1139.78" cy="1217.02" r="8.7" fill="#4F81BD"/><circle cx="1173.90" cy="1215.39" r="14.85" fill="#4A7EBB"/><circle cx="1173.90" cy="1215.39" r="8.7" fill="#4F81BD"/><circle cx="1208.02" cy="1215.39" r="14.85" fill="#4A7EBB"/><circle cx="1208.02" cy="1215.39" r="8.7" fill="#4F81BD"/><circle cx="1242.14" cy="1201.62" r="14.85" fill="#4A7EBB"/><circle cx="1242.14" cy="1201.62" r="8.7" fill="#4F81BD"/><circle cx="1276.26" cy="1201.62" r="14.85" fill="#4A7EBB"/><circle cx="1276.26" cy="1201.62" r="8.7" fill="#4F81BD"/><circle cx="1310.38" cy="1186.22" r="14.85" fill="#4A7EBB"/><circle cx="1310.38" cy="1186.22" r="8.7" fill="#4F81BD"/><circle cx="1344.50" cy="1173.70" r="14.85" fill="#4A7EBB"/><circle cx="1344.50" cy="1173.70" r="8.7" fill="#4F81BD"/><circle cx="1378.62" cy="1159.18" r="14.85" fill="#4A7EBB"/><circle cx="1378.62" cy="1159.18" r="8.7" fill="#4F81BD"/><circle cx="1412.74" cy="1151.16" r="14.85" fill="#4A7EBB"/><circle cx="1412.74" cy="1151.16" r="8.7" fill="#4F81BD"/><circle cx="1446.86" cy="1129.88" r="14.85" fill="#4A7EBB"/><circle cx="1446.86" cy="1129.88" r="8.7" fill="#4F81BD"/><circle cx="1480.98" cy="1037.23" r="14.85" fill="#4A7EBB"/><circle cx="1480.98" cy="1037.23" r="8.7" fill="#4F81BD"/><circle cx="1515.10" cy="924.55" r="14.85" fill="#4A7EBB"/><circle cx="1515.10" cy="924.55" r="8.7" fill="#4F81BD"/><circle cx="1549.22" cy="786.83" r="14.85" fill="#4A7EBB"/><circle cx="1549.22" cy="786.83" r="8.7" fill="#4F81BD"/><circle cx="1583.34" cy="630.33" r="14.85" fill="#4A7EBB"/><circle cx="1583.34" cy="630.33" r="8.7" fill="#4F81BD"/><circle cx="1617.46" cy="446.29" r="14.85" fill="#4A7EBB"/><circle cx="1617.46" cy="446.29" r="8.7" fill="#4F81BD"/><circle cx="1651.58" cy="227.81" r="14.85" fill="#4A7EBB"/><circle cx="1651.58" cy="227.81" r="8.7" fill="#4F81BD"/><circle cx="1685.70" cy="78.20" r="14.85" fill="#4A7EBB"/><circle cx="1685.70" cy="78.20" r="8.7" fill="#4F81BD"/><circle cx="1719.82" cy="78.20" r="14.85" fill="#4A7EBB"/><circle cx="1719.82" cy="78.20" r="8.7" fill="#4F81BD"/><circle cx="1753.94" cy="78.20" r="14.85" fill="#4A7EBB"/><circle cx="1753.94" cy="78.20" r="8.7" fill="#4F81BD"/><circle cx="1788.06" cy="78.20" r="14.85" fill="#4A7EBB"/><circle cx="1788.06" cy="78.20" r="8.7" fill="#4F81BD"/><circle cx="1822.18" cy="78.20" r="14.85" fill="#4A7EBB"/><circle cx="1822.18" cy="78.20" r="8.7" fill="#4F81BD"/><circle cx="1856.30" cy="78.20" r="14.85" fill="#4A7EBB"/><circle cx="1856.30" cy="78.20" r="8.7" fill="#4F81BD"/><circle cx="1890.42" cy="78.20" r="14.85" fill="#4A7EBB"/><circle cx="1890.42" cy="78.20" r="8.7" fill="#4F81BD"/><circle cx="1924.54" cy="78.20" r="14.85" fill="#4A7EBB"/><circle cx="1924.54" cy="78.20" r="8.7" fill="#4F81BD"/><circle cx="1958.66" cy="78.20" r="14.85" fill="#4A7EBB"/><circle cx="1958.66" cy="78.20" r="8.7" fill="#4F81BD"/></g>
<path clip-path="url(#pa)" d="M494.50 1330.20 C500.18 1330.20 517.21 1330.20 528.56 1330.20 C539.91 1330.20 551.27 1330.20 562.62 1330.20 C573.97 1330.20 585.33 1330.20 596.68 1330.20 C608.03 1330.20 619.39 1330.20 630.74 1330.20 C642.09 1330.20 653.45 1330.20 664.80 1330.20 C676.15 1330.20 687.52 1330.62 698.86 1330.20 C710.23 1329.78 721.55 1328.20 732.92 1327.70 C744.26 1327.20 755.63 1327.55 766.98 1327.20 C778.34 1326.84 789.68 1325.92 801.04 1325.57 C812.39 1325.21 823.75 1325.44 835.10 1325.07 C846.46 1324.69 857.81 1323.88 869.16 1323.31 C880.51 1322.75 891.87 1322.35 903.22 1321.69 C914.58 1321.02 925.93 1320.08 937.28 1319.31 C948.63 1318.54 960.01 1318.03 971.34 1317.05 C982.71 1316.07 994.05 1314.67 1005.40 1313.42 C1016.76 1312.17 1028.16 1311.18 1039.46 1309.54 C1050.86 1307.89 1062.19 1305.64 1073.52 1303.53 C1084.89 1301.42 1097.21 1294.36 1107.58 1296.90 C1119.91 1299.91 1129.70 1318.74 1141.64 1320.18 C1152.41 1321.49 1164.55 1310.59 1175.70 1305.16 C1187.26 1299.53 1198.65 1293.48 1209.76 1287.01 C1221.36 1280.25 1232.81 1273.14 1243.82 1265.47 C1255.52 1257.32 1267.59 1249.33 1277.88 1239.56 C1290.30 1227.76 1301.61 1214.46 1311.94 1200.74 C1324.32 1184.29 1331.92 1163.17 1346.00 1149.04 C1354.62 1140.38 1370.35 1140.12 1380.06 1132.38 C1393.05 1122.04 1403.77 1108.14 1414.12 1094.82 C1426.48 1078.92 1437.66 1061.95 1448.18 1044.74 C1460.37 1024.81 1471.80 1004.31 1482.24 983.40 C1494.51 958.82 1505.55 933.57 1516.30 908.28 C1528.25 880.15 1540.13 851.92 1550.36 823.14 C1562.83 788.07 1574.12 752.50 1584.42 716.72 C1596.83 673.62 1608.15 630.16 1618.48 586.51 C1630.86 534.17 1642.23 481.55 1652.54 428.76 C1664.93 365.32 1674.27 301.28 1686.60 237.83 C1696.98 184.43 1701.87 122.22 1720.66 78.20 C1724.58 69.01 1743.37 78.20 1754.72 78.20 C1766.07 78.20 1777.43 78.20 1788.78 78.20 C1800.13 78.20 1811.49 78.20 1822.84 78.20 C1834.19 78.20 1845.55 78.20 1856.90 78.20 C1868.25 78.20 1879.61 78.20 1890.96 78.20 C1902.31 78.20 1913.67 78.20 1925.02 78.20 C1936.37 78.20 1953.40 78.20 1959.08 78.20" fill="none" stroke="#BE4B48" stroke-width="12" stroke-linecap="round" stroke-linejoin="round"/>
<g><path d="M481.45 1317.15L507.55 1343.25M507.55 1317.15L481.45 1343.25" stroke="#BE4B48" stroke-width="5.5" fill="none"/><path d="M515.51 1317.15L541.61 1343.25M541.61 1317.15L515.51 1343.25" stroke="#BE4B48" stroke-width="5.5" fill="none"/><path d="M549.57 1317.15L575.67 1343.25M575.67 1317.15L549.57 1343.25" stroke="#BE4B48" stroke-width="5.5" fill="none"/><path d="M583.63 1317.15L609.73 1343.25M609.73 1317.15L583.63 1343.25" stroke="#BE4B48" stroke-width="5.5" fill="none"/><path d="M617.69 1317.15L643.79 1343.25M643.79 1317.15L617.69 1343.25" stroke="#BE4B48" stroke-width="5.5" fill="none"/><path d="M651.75 1317.15L677.85 1343.25M677.85 1317.15L651.75 1343.25" stroke="#BE4B48" stroke-width="5.5" fill="none"/><path d="M685.81 1317.15L711.91 1343.25M711.91 1317.15L685.81 1343.25" stroke="#BE4B48" stroke-width="5.5" fill="none"/><path d="M719.87 1314.65L745.97 1340.75M745.97 1314.65L719.87 1340.75" stroke="#BE4B48" stroke-width="5.5" fill="none"/><path d="M753.93 1314.15L780.03 1340.25M780.03 1314.15L753.93 1340.25" stroke="#BE4B48" stroke-width="5.5" fill="none"/><path d="M787.99 1312.52L814.09 1338.62M814.09 1312.52L787.99 1338.62" stroke="#BE4B48" stroke-width="5.5" fill="none"/><path d="M822.05 1312.02L848.15 1338.12M848.15 1312.02L822.05 1338.12" stroke="#BE4B48" stroke-width="5.5" fill="none"/><path d="M856.11 1310.26L882.21 1336.36M882.21 1310.26L856.11 1336.36" stroke="#BE4B48" stroke-width="5.5" fill="none"/><path d="M890.17 1308.64L916.27 1334.74M916.27 1308.64L890.17 1334.74" stroke="#BE4B48" stroke-width="5.5" fill="none"/><path d="M924.23 1306.26L950.33 1332.36M950.33 1306.26L924.23 1332.36" stroke="#BE4B48" stroke-width="5.5" fill="none"/><path d="M958.29 1304.00L984.39 1330.10M984.39 1304.00L958.29 1330.10" stroke="#BE4B48" stroke-width="5.5" fill="none"/><path d="M992.35 1300.37L1018.45 1326.47M1018.45 1300.37L992.35 1326.47" stroke="#BE4B48" stroke-width="5.5" fill="none"/><path d="M1026.41 1296.49L1052.51 1322.59M1052.51 1296.49L1026.41 1322.59" stroke="#BE4B48" stroke-width="5.5" fill="none"/><path d="M1060.47 1290.48L1086.57 1316.58M1086.57 1290.48L1060.47 1316.58" stroke="#BE4B48" stroke-width="5.5" fill="none"/><path d="M1094.53 1283.85L1120.63 1309.95M1120.63 1283.85L1094.53 1309.95" stroke="#BE4B48" stroke-width="5.5" fill="none"/><path d="M1128.59 1307.13L1154.69 1333.23M1154.69 1307.13L1128.59 1333.23" stroke="#BE4B48" stroke-width="5.5" fill="none"/><path d="M1162.65 1292.11L1188.75 1318.21M1188.75 1292.11L1162.65 1318.21" stroke="#BE4B48" stroke-width="5.5" fill="none"/><path d="M1196.71 1273.96L1222.81 1300.06M1222.81 1273.96L1196.71 1300.06" stroke="#BE4B48" stroke-width="5.5" fill="none"/><path d="M1230.77 1252.42L1256.87 1278.52M1256.87 1252.42L1230.77 1278.52" stroke="#BE4B48" stroke-width="5.5" fill="none"/><path d="M1264.83 1226.51L1290.93 1252.61M1290.93 1226.51L1264.83 1252.61" stroke="#BE4B48" stroke-width="5.5" fill="none"/><path d="M1298.89 1187.69L1324.99 1213.79M1324.99 1187.69L1298.89 1213.79" stroke="#BE4B48" stroke-width="5.5" fill="none"/><path d="M1332.95 1135.99L1359.05 1162.09M1359.05 1135.99L1332.95 1162.09" stroke="#BE4B48" stroke-width="5.5" fill="none"/><path d="M1367.01 1119.33L1393.11 1145.43M1393.11 1119.33L1367.01 1145.43" stroke="#BE4B48" stroke-width="5.5" fill="none"/><path d="M1401.07 1081.77L1427.17 1107.87M1427.17 1081.77L1401.07 1107.87" stroke="#BE4B48" stroke-width="5.5" fill="none"/><path d="M1435.13 1031.69L1461.23 1057.79M1461.23 1031.69L1435.13 1057.79" stroke="#BE4B48" stroke-width="5.5" fill="none"/><path d="M1469.19 970.35L1495.29 996.45M1495.29 970.35L1469.19 996.45" stroke="#BE4B48" stroke-width="5.5" fill="none"/><path d="M1503.25 895.23L1529.35 921.33M1529.35 895.23L1503.25 921.33" stroke="#BE4B48" stroke-width="5.5" fill="none"/><path d="M1537.31 810.09L1563.41 836.19M1563.41 810.09L1537.31 836.19" stroke="#BE4B48" stroke-width="5.5" fill="none"/><path d="M1571.37 703.67L1597.47 729.77M1597.47 703.67L1571.37 729.77" stroke="#BE4B48" stroke-width="5.5" fill="none"/><path d="M1605.43 573.46L1631.53 599.56M1631.53 573.46L1605.43 599.56" stroke="#BE4B48" stroke-width="5.5" fill="none"/><path d="M1639.49 415.71L1665.59 441.81M1665.59 415.71L1639.49 441.81" stroke="#BE4B48" stroke-width="5.5" fill="none"/><path d="M1673.55 224.78L1699.65 250.88M1699.65 224.78L1673.55 250.88" stroke="#BE4B48" stroke-width="5.5" fill="none"/><path d="M1707.61 65.15L1733.71 91.25M1733.71 65.15L1707.61 91.25" stroke="#BE4B48" stroke-width="5.5" fill="none"/><path d="M1741.67 65.15L1767.77 91.25M1767.77 65.15L1741.67 91.25" stroke="#BE4B48" stroke-width="5.5" fill="none"/><path d="M1775.73 65.15L1801.83 91.25M1801.83 65.15L1775.73 91.25" stroke="#BE4B48" stroke-width="5.5" fill="none"/><path d="M1809.79 65.15L1835.89 91.25M1835.89 65.15L1809.79 91.25" stroke="#BE4B48" stroke-width="5.5" fill="none"/><path d="M1843.85 65.15L1869.95 91.25M1869.95 65.15L1843.85 91.25" stroke="#BE4B48" stroke-width="5.5" fill="none"/><path d="M1877.91 65.15L1904.01 91.25M1904.01 65.15L1877.91 91.25" stroke="#BE4B48" stroke-width="5.5" fill="none"/><path d="M1911.97 65.15L1938.07 91.25M1938.07 65.15L1911.97 91.25" stroke="#BE4B48" stroke-width="5.5" fill="none"/><path d="M1946.03 65.15L1972.13 91.25M1972.13 65.15L1946.03 91.25" stroke="#BE4B48" stroke-width="5.5" fill="none"/></g>
<path d="M563.8 152.7H723.8" stroke="#46AAC5" stroke-width="12" stroke-linecap="round"/>
<rect x="630.10" y="138.70" width="29.8" height="29.8" rx="3" fill="#46AAC5"/><rect x="636.00" y="144.60" width="18" height="18" fill="#4BACC6"/>
<path d="M563.8 360.5H723.8" stroke="#F69240" stroke-width="12" stroke-linecap="round"/>
<path d="M644.00 345.30L658.85 373.90H629.15Z" fill="#F69240" stroke="#F69240" stroke-width="1.5" stroke-linejoin="round"/><path d="M644.00 354.83L651.42 369.13H636.58Z" fill="#F79646"/>
<path d="M563.8 568.3H723.8" stroke="#4A7EBB" stroke-width="12" stroke-linecap="round"/>
<circle cx="644.00" cy="567.90" r="14.85" fill="#4A7EBB"/><circle cx="644.00" cy="567.90" r="8.7" fill="#4F81BD"/>
<path d="M563.8 776.5H723.8" stroke="#BE4B48" stroke-width="12" stroke-linecap="round"/>
<path d="M631.10 763.60L656.90 789.40M656.90 763.60L631.10 789.40" stroke="#BE4B48" stroke-width="7.6" fill="none"/>
</svg>
</body></html>
